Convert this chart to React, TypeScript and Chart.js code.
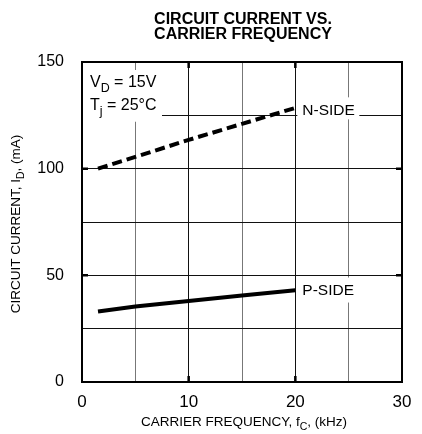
import React, { useEffect, useRef } from "react";
import { Chart, registerables } from "chart.js";

Chart.register(...registerables);

const titleLines = ["CIRCUIT CURRENT VS.", "CARRIER FREQUENCY"];
const freqN = [1.5, 5, 10, 15, 20];
const nSide = [100, 105.5, 113.5, 121, 128.5];
const freqP = [1.5, 5, 10, 15, 20];
const pSide = [33, 35.4, 38, 40.6, 43];
const xTickLabels = [0, 10, 20, 30];
const yTickLabels = [0, 50, 100, 150];

type Part = { t: string; sub?: boolean };

const FONT = '"Liberation Sans", Arial, sans-serif';
const SUB = 0.78;

function richWidth(ctx: CanvasRenderingContext2D, parts: Part[], size: number, bold = false) {
  let w = 0;
  for (const p of parts) {
    const s = p.sub ? size * SUB : size;
    ctx.font = `${bold ? "bold " : ""}${s}px ${FONT}`;
    w += ctx.measureText(p.t).width;
  }
  return w;
}

function drawRich(
  ctx: CanvasRenderingContext2D,
  parts: Part[],
  x: number,
  y: number,
  size: number,
  align: "left" | "center" = "left",
  bold = false
) {
  const w = richWidth(ctx, parts, size, bold);
  let cx = align === "center" ? x - w / 2 : x;
  ctx.textBaseline = "alphabetic";
  ctx.textAlign = "left";
  for (const p of parts) {
    const s = p.sub ? size * SUB : size;
    ctx.font = `${bold ? "bold " : ""}${s}px ${FONT}`;
    ctx.fillText(p.t, cx, p.sub ? y + size * 0.32 : y);
    cx += ctx.measureText(p.t).width;
  }
  return w;
}

const decorPlugin = {
  id: "decor",
  afterDraw(chart: any) {
    const ctx: CanvasRenderingContext2D = chart.ctx;
    const { left, right, top, bottom } = chart.chartArea;
    const xs = chart.scales.x;
    const ys = chart.scales.y;
    ctx.save();
    ctx.fillStyle = "#000";
    ctx.strokeStyle = "#000";

    const box = (x0: number, y0: number, x1: number, y1: number) => {
      ctx.fillStyle = "#fff";
      ctx.fillRect(x0, y0, x1 - x0, y1 - y0);
      ctx.fillStyle = "#000";
    };
    // conditions box
    box(left + 1, top + 8, xs.getPixelForValue(7.5), ys.getPixelForValue(122));
    drawRich(ctx, [{ t: "V" }, { t: "D", sub: true }, { t: " = 15V" }], left + 8, top + 25, 16);
    drawRich(ctx, [{ t: "T" }, { t: "j", sub: true }, { t: " = 25°C" }], left + 8, top + 48, 16);

    // N-SIDE label
    const nx = xs.getPixelForValue(20) + 2;
    const ny = ys.getPixelForValue(125);
    box(nx, ny - 18, nx + 62, ny + 4);
    drawRich(ctx, [{ t: "N-SIDE" }], nx + 5, ny - 0.5, 15.5);

    // P-SIDE label
    const px = xs.getPixelForValue(20) + 2;
    const py = ys.getPixelForValue(48.5);
    box(px, py - 1, px + 64, py + 24);
    drawRich(ctx, [{ t: "P-SIDE" }], px + 5, py + 16, 15.5);

    // border
    ctx.lineWidth = 2;
    ctx.strokeRect(left, top, right - left, bottom - top);

    // inward major tick stubs
    ctx.lineWidth = 2.5;
    for (const v of [10, 20]) {
      const p = xs.getPixelForValue(v);
      ctx.beginPath();
      ctx.moveTo(p, top);
      ctx.lineTo(p, top + 6);
      ctx.moveTo(p, bottom);
      ctx.lineTo(p, bottom - 6);
      ctx.stroke();
    }
    for (const v of [50, 100]) {
      const p = ys.getPixelForValue(v);
      ctx.beginPath();
      ctx.moveTo(left, p);
      ctx.lineTo(left + 6, p);
      ctx.moveTo(right, p);
      ctx.lineTo(right - 6, p);
      ctx.stroke();
    }

    // title
    const cx = (left + right) / 2;
    ctx.font = `bold 16px ${FONT}`;
    ctx.textAlign = "center";
    ctx.textBaseline = "alphabetic";
    ctx.fillText(titleLines[0], cx + 1, 24);
    ctx.fillText(titleLines[1], cx + 1, 39);

    // x axis title
    drawRich(
      ctx,
      [{ t: "CARRIER FREQUENCY, f" }, { t: "C", sub: true }, { t: ", (kHz)" }],
      cx + 2,
      426,
      13.5,
      "center"
    );

    // y axis title (rotated)
    ctx.save();
    ctx.translate(20, (top + bottom) / 2 + 2);
    ctx.rotate(-Math.PI / 2);
    drawRich(
      ctx,
      [{ t: "CIRCUIT CURRENT, I" }, { t: "D", sub: true }, { t: ", (mA)" }],
      0,
      0,
      13.5,
      "center"
    );
    ctx.restore();
    ctx.restore();
  },
};

export default function App() {
  const ref = useRef<HTMLCanvasElement | null>(null);
  useEffect(() => {
    if (!ref.current) return;
    const chart = new Chart(ref.current, {
      type: "line",
      data: {
        datasets: [
          {
            label: "N-SIDE",
            data: freqN.map((x, i) => ({ x, y: nSide[i] })),
            borderColor: "#000",
            borderWidth: 4,
            borderDash: [10, 5],
            pointRadius: 0,
            fill: false,
          },
          {
            label: "P-SIDE",
            data: freqP.map((x, i) => ({ x, y: pSide[i] })),
            borderColor: "#000",
            borderWidth: 4,
            pointRadius: 0,
            fill: false,
          },
        ],
      },
      options: {
        animation: false,
        responsive: false,
        devicePixelRatio: 1,
        layout: { padding: { left: 0, right: 20, top: 62, bottom: 0 } },
        plugins: { legend: { display: false }, tooltip: { enabled: false }, title: { display: false } },
        scales: {
          x: {
            type: "linear",
            min: 0,
            max: 30,
            afterFit: (s: any) => {
              s.height = 52;
            },
            border: { display: false },
            grid: {
              drawTicks: false,
              lineWidth: 1,
              color: (c: any) => (c.tick && c.tick.value % 10 === 0 ? "#111" : "#777"),
            },
            ticks: {
              stepSize: 5,
              padding: 10,
              color: "#000",
              font: { size: 17, family: FONT },
              callback: (v: any) => (xTickLabels.includes(Number(v)) ? String(v) : ""),
            },
          },
          y: {
            type: "linear",
            min: 0,
            max: 150,
            afterFit: (s: any) => {
              s.width = 82;
            },
            border: { display: false },
            grid: { drawTicks: false, lineWidth: 1, color: "#111" },
            ticks: {
              stepSize: 25,
              padding: 18,
              color: "#000",
              font: { size: 16, family: FONT },
              callback: (v: any) => (yTickLabels.includes(Number(v)) ? String(v) : ""),
            },
          },
        },
      },
      plugins: [decorPlugin],
    });
    return () => chart.destroy();
  }, []);
  return (
    <div style={{ position: "absolute", left: 0, top: 0, width: 422, height: 434, background: "#fff" }}>
      <canvas ref={ref} width={422} height={434} />
    </div>
  );
}
